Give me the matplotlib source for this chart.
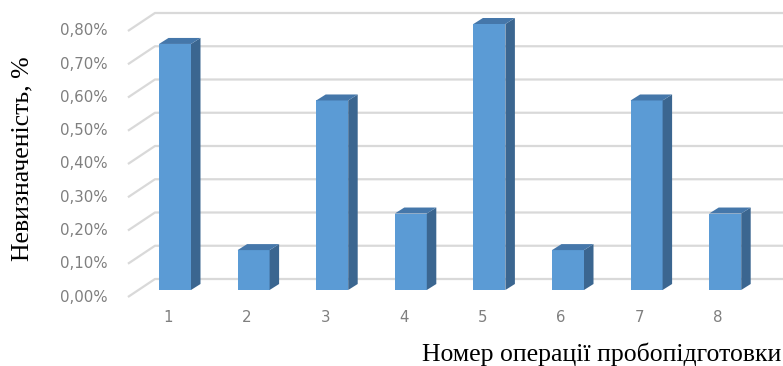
import numpy as np
import matplotlib

matplotlib.use("Agg")
import matplotlib.pyplot as plt
from matplotlib.patches import Polygon

# uncertainty per sample-preparation operation, in percent
operations = [1, 2, 3, 4, 5, 6, 7, 8]
uncertainty = [0.74, 0.12, 0.57, 0.23, 0.80, 0.12, 0.57, 0.23]
y_ticks = [0.0, 0.1, 0.2, 0.3, 0.4, 0.5, 0.6, 0.7, 0.8]

FRONT = "#5b9bd5"
SIDE = "#3b6690"
TOP = "#4577aa"
GRID = "#d9d9d9"
TICK = "#7f7f7f"

W, H, DPI = 783, 366, 100
# pixel layout of the bar front plane
X0, DX = 175.0, 78.6       # centre of first bar, spacing between bars
Y0, DY = 290.0, 332.5      # baseline, pixels per 1 %

fig = plt.figure(figsize=(W / DPI, H / DPI), dpi=DPI)
ax = fig.add_axes([0, 0, 1, 1])
ax.set_xlim(1 - X0 / DX, 1 + (W - X0) / DX)
ax.set_ylim((Y0 - H) / DY, Y0 / DY)
ax.axis("off")


def px(dx, dy):
    """Pixel offset -> data offset (dy positive upwards)."""
    return dx / DX, dy / DY


wall_dx, wall_dy = px(16.5, 11)
floor_dx, floor_dy = px(-10.5, -7)
back_dx, back_dy = px(9.5, 6)
bar_w = 32 / DX
left = 0.535
right = 9.0

# back wall gridlines with the slanted floor edge on the left
for v in y_ticks:
    ax.plot([left + floor_dx, left + wall_dx, right],
            [v + floor_dy, v + wall_dy, v + wall_dy],
            color=GRID, lw=1.6, solid_capstyle="butt", zorder=1)
    ax.text(left + floor_dx - 20 / DX, v + floor_dy,
            f"{v:.2f}%".replace(".", ","), ha="right", va="center",
            color=TICK, fontsize=10.8, family="DejaVu Sans")

# 3D-looking columns: front face, side face, top face
ax.bar(operations, uncertainty, width=bar_w, color=FRONT, zorder=3,
       linewidth=0)
for x, v in zip(operations, uncertainty):
    xl, xr = x - bar_w / 2, x + bar_w / 2
    side = [(xr, 0), (xr + back_dx, back_dy), (xr + back_dx, v + back_dy), (xr, v)]
    top = [(xl, v), (xr, v), (xr + back_dx, v + back_dy), (xl + back_dx, v + back_dy)]
    ax.add_patch(Polygon(side, closed=True, color=SIDE, lw=0, zorder=3))
    ax.add_patch(Polygon(top, closed=True, color=TOP, lw=0, zorder=3))
    ax.text(x - 7 / DX, -28 / DY, str(x), ha="center", va="center",
            color=TICK, fontsize=10.8, family="DejaVu Sans")

fig.text(22 / W, 1 - 159 / H, "Невизначеність, %", rotation=90,
         ha="center", va="center", family="Liberation Serif", fontsize=18.5)
fig.text(781 / W, 1 - 354 / H, "Номер операції пробопідготовки",
         ha="right", va="center", family="Liberation Serif", fontsize=18.5)

fig.savefig("out.png", dpi=DPI)
plt.close(fig)
